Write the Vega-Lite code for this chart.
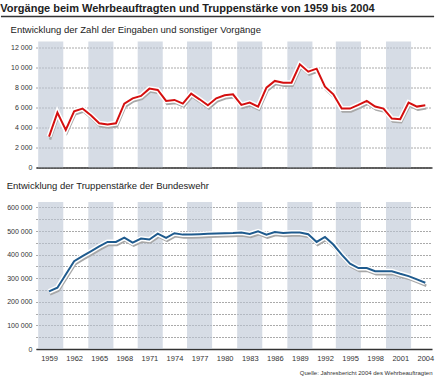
{
  "$schema": "https://vega.github.io/schema/vega-lite/v6.json",
  "padding": {"left": 0, "right": 2, "top": 3, "bottom": 1},
  "title": {
    "text": "Vorgänge beim Wehrbeauftragten und Truppenstärke von 1959 bis 2004",
    "anchor": "start", "frame": "bounds", "fontSize": 11, "fontWeight": "bold",
    "color": "#222222", "offset": -9.5, "baseline": "bottom"
  },
  "datasets": {
    "bands": [
      {"start": 1957.7, "end": 1960.7}, {"start": 1963.7, "end": 1966.7},
      {"start": 1969.6, "end": 1972.6}, {"start": 1975.5, "end": 1978.5},
      {"start": 1981.5, "end": 1984.5}, {"start": 1987.5, "end": 1990.5},
      {"start": 1993.3, "end": 1996.3}, {"start": 1999.3, "end": 2002.3}
    ],
    "eingaben": [
      {"year": 1959, "value": 3100}, {"year": 1960, "value": 5500}, {"year": 1961, "value": 3770},
      {"year": 1962, "value": 5630}, {"year": 1963, "value": 5900}, {"year": 1964, "value": 5230},
      {"year": 1965, "value": 4430}, {"year": 1966, "value": 4300}, {"year": 1967, "value": 4430},
      {"year": 1968, "value": 6400}, {"year": 1969, "value": 6930}, {"year": 1970, "value": 7170},
      {"year": 1971, "value": 7900}, {"year": 1972, "value": 7770}, {"year": 1973, "value": 6670},
      {"year": 1974, "value": 6770}, {"year": 1975, "value": 6400}, {"year": 1976, "value": 7400},
      {"year": 1977, "value": 6830}, {"year": 1978, "value": 6230}, {"year": 1979, "value": 6930},
      {"year": 1980, "value": 7230}, {"year": 1981, "value": 7330}, {"year": 1982, "value": 6270},
      {"year": 1983, "value": 6500}, {"year": 1984, "value": 6100}, {"year": 1985, "value": 8000},
      {"year": 1986, "value": 8670}, {"year": 1987, "value": 8500}, {"year": 1988, "value": 8500},
      {"year": 1989, "value": 10330}, {"year": 1990, "value": 9600}, {"year": 1991, "value": 9900},
      {"year": 1992, "value": 8100}, {"year": 1993, "value": 7330}, {"year": 1994, "value": 5900},
      {"year": 1995, "value": 5900}, {"year": 1996, "value": 6270}, {"year": 1997, "value": 6670},
      {"year": 1998, "value": 6100}, {"year": 1999, "value": 5900}, {"year": 2000, "value": 4900},
      {"year": 2001, "value": 4830}, {"year": 2002, "value": 6500}, {"year": 2003, "value": 6100},
      {"year": 2004, "value": 6230}
    ],
    "truppen": [
      {"year": 1959, "value": 244000}, {"year": 1960, "value": 260000}, {"year": 1961, "value": 316000},
      {"year": 1962, "value": 372000}, {"year": 1963, "value": 394000}, {"year": 1964, "value": 414000},
      {"year": 1965, "value": 435000}, {"year": 1966, "value": 454000}, {"year": 1967, "value": 454000},
      {"year": 1968, "value": 472000}, {"year": 1969, "value": 451000}, {"year": 1970, "value": 468000},
      {"year": 1971, "value": 464000}, {"year": 1972, "value": 489000}, {"year": 1973, "value": 471000},
      {"year": 1974, "value": 491000}, {"year": 1975, "value": 485000}, {"year": 1976, "value": 485000},
      {"year": 1977, "value": 487000}, {"year": 1978, "value": 489000}, {"year": 1979, "value": 490000},
      {"year": 1980, "value": 491000}, {"year": 1981, "value": 492000}, {"year": 1982, "value": 494000},
      {"year": 1983, "value": 488000}, {"year": 1984, "value": 499000}, {"year": 1985, "value": 485000},
      {"year": 1986, "value": 496000}, {"year": 1987, "value": 492000}, {"year": 1988, "value": 494000},
      {"year": 1989, "value": 494000}, {"year": 1990, "value": 487000}, {"year": 1991, "value": 454000},
      {"year": 1992, "value": 475000}, {"year": 1993, "value": 443000}, {"year": 1994, "value": 400000},
      {"year": 1995, "value": 362000}, {"year": 1996, "value": 343000}, {"year": 1997, "value": 343000},
      {"year": 1998, "value": 330000}, {"year": 1999, "value": 330000}, {"year": 2000, "value": 330000},
      {"year": 2001, "value": 319000}, {"year": 2002, "value": 309000}, {"year": 2003, "value": 295000},
      {"year": 2004, "value": 281000}
    ]
  },
  "spacing": 6.5,
  "vconcat": [
    {
      "width": 396, "height": 1,
      "data": {"values": [{}]},
      "mark": {"type": "rule", "color": "#333333", "strokeWidth": 1.3, "clip": false},
      "encoding": {
        "x": {"datum": 1953.25, "type": "quantitative", "scale": {"domain": [1957.44, 2004.8], "nice": false, "zero": false}, "axis": null},
        "x2": {"datum": 2005.05}
      }
    },
    {
      "width": 396, "height": 126,
      "title": {"text": "Entwicklung der Zahl der Eingaben und sonstiger Vorgänge", "anchor": "start", "fontSize": 9.5, "fontWeight": "normal", "offset": -3.4, "color": "#222222", "baseline": "bottom"},
      "layer": [
        {
          "data": {"name": "bands"},
          "mark": {"type": "rect", "color": "#bbc5d4", "opacity": 0.6},
          "encoding": {
            "x": {"field": "start", "type": "quantitative", "scale": {"domain": [1957.44, 2004.8], "nice": false, "zero": false},
                  "axis": {"labels": false, "ticks": false, "grid": false, "title": null, "domain": true, "domainColor": "#333333", "domainWidth": 1.5, "minExtent": 7}},
            "x2": {"field": "end"}
          }
        },
        {
          "data": {"name": "eingaben"},
          "mark": {"type": "line", "color": "#a8a8a8", "strokeWidth": 2.5, "xOffset": 1, "yOffset": 3},
          "encoding": {
            "x": {"field": "year", "type": "quantitative",
                  "axis": {"labels": false, "ticks": false, "grid": false, "title": null, "domain": true, "domainColor": "#333333", "domainWidth": 1.5, "minExtent": 7}},
            "y": {"field": "value", "type": "quantitative", "scale": {"domain": [0, 12620], "nice": false},
                  "axis": {"values": [0, 2000, 4000, 6000, 8000, 10000, 12000], "format": ",d", "grid": true, "gridDash": [1, 2], "gridColor": "#555555", "gridWidth": 1, "domain": false, "ticks": false, "labelFontSize": 7, "labelPadding": 4, "labelOverlap": false, "title": null}}
          }
        },
        {
          "data": {"name": "eingaben"},
          "mark": {"type": "line", "color": "#ffffff", "strokeWidth": 5},
          "encoding": {
            "x": {"field": "year", "type": "quantitative",
                  "axis": {"labels": false, "ticks": false, "grid": false, "title": null, "domain": true, "domainColor": "#333333", "domainWidth": 1.5, "minExtent": 7}},
            "y": {"field": "value", "type": "quantitative",
                  "axis": {"values": [0, 2000, 4000, 6000, 8000, 10000, 12000], "format": ",d", "grid": true, "gridDash": [1, 2], "gridColor": "#555555", "gridWidth": 1, "domain": false, "ticks": false, "labelFontSize": 7, "labelPadding": 4, "labelOverlap": false, "title": null}}}
        },
        {
          "data": {"name": "eingaben"},
          "mark": {"type": "line", "color": "#d40f0f", "strokeWidth": 2},
          "encoding": {
            "x": {"field": "year", "type": "quantitative",
                  "axis": {"labels": false, "ticks": false, "grid": false, "title": null, "domain": true, "domainColor": "#333333", "domainWidth": 1.5, "minExtent": 7}},
            "y": {"field": "value", "type": "quantitative",
                  "axis": {"values": [0, 2000, 4000, 6000, 8000, 10000, 12000], "format": ",d", "grid": true, "gridDash": [1, 2], "gridColor": "#555555", "gridWidth": 1, "domain": false, "ticks": false, "labelFontSize": 7, "labelPadding": 4, "labelOverlap": false, "title": null}}}
        }
      ]
    },
    {
      "width": 396, "height": 147,
      "title": {"text": "Entwicklung der Truppenstärke der Bundeswehr", "anchor": "start", "fontSize": 9.5, "fontWeight": "normal", "offset": 1.2, "color": "#222222", "baseline": "bottom"},
      "layer": [
        {
          "data": {"name": "bands"},
          "mark": {"type": "rect", "color": "#bbc5d4", "opacity": 0.6},
          "encoding": {
            "x": {"field": "start", "type": "quantitative", "scale": {"domain": [1957.44, 2004.8], "nice": false, "zero": false},
                  "axis": {"values": [1959, 1962, 1965, 1968, 1971, 1974, 1977, 1980, 1983, 1986, 1989, 1992, 1995, 1998, 2001, 2004], "format": "d", "ticks": false, "grid": false, "domain": true, "domainColor": "#333333", "domainWidth": 1.5, "labelFontSize": 7.5, "labelPadding": 5, "labelOverlap": false,
                           "title": "Quelle: Jahresbericht 2004 des Wehrbeauftragten", "titleFontSize": 6, "titleFontWeight": "normal", "titleAnchor": "end", "titlePadding": 8, "titleColor": "#333333"}},
            "x2": {"field": "end"}
          }
        },
        {
          "data": {"name": "truppen"},
          "mark": {"type": "line", "color": "#a8a8a8", "strokeWidth": 2.5, "xOffset": 1, "yOffset": 3},
          "encoding": {
            "x": {"field": "year", "type": "quantitative",
                  "axis": {"values": [1959, 1962, 1965, 1968, 1971, 1974, 1977, 1980, 1983, 1986, 1989, 1992, 1995, 1998, 2001, 2004], "format": "d", "ticks": false, "grid": false, "domain": true, "domainColor": "#333333", "domainWidth": 1.5, "labelFontSize": 7.5, "labelPadding": 5, "labelOverlap": false,
                           "title": "Quelle: Jahresbericht 2004 des Wehrbeauftragten", "titleFontSize": 6, "titleFontWeight": "normal", "titleAnchor": "end", "titlePadding": 8, "titleColor": "#333333"}},
            "y": {"field": "value", "type": "quantitative", "scale": {"domain": [0, 623300], "nice": false},
                  "axis": {"values": [0, 50000, 100000, 150000, 200000, 250000, 300000, 350000, 400000, 450000, 500000, 550000, 600000], "labelExpr": "datum.value % 100000 === 0 ? datum.label : ''", "format": ",d", "grid": true, "gridDash": [1, 2], "gridColor": "#555555", "gridWidth": 1, "domain": false, "ticks": false, "labelFontSize": 7, "labelPadding": 4, "labelOverlap": false, "title": null}}
          }
        },
        {
          "data": {"name": "truppen"},
          "mark": {"type": "line", "color": "#ffffff", "strokeWidth": 5},
          "encoding": {
            "x": {"field": "year", "type": "quantitative",
                  "axis": {"values": [1959, 1962, 1965, 1968, 1971, 1974, 1977, 1980, 1983, 1986, 1989, 1992, 1995, 1998, 2001, 2004], "format": "d", "ticks": false, "grid": false, "domain": true, "domainColor": "#333333", "domainWidth": 1.5, "labelFontSize": 7.5, "labelPadding": 5, "labelOverlap": false,
                           "title": "Quelle: Jahresbericht 2004 des Wehrbeauftragten", "titleFontSize": 6, "titleFontWeight": "normal", "titleAnchor": "end", "titlePadding": 8, "titleColor": "#333333"}},
            "y": {"field": "value", "type": "quantitative",
                  "axis": {"values": [0, 50000, 100000, 150000, 200000, 250000, 300000, 350000, 400000, 450000, 500000, 550000, 600000], "labelExpr": "datum.value % 100000 === 0 ? datum.label : ''", "format": ",d", "grid": true, "gridDash": [1, 2], "gridColor": "#555555", "gridWidth": 1, "domain": false, "ticks": false, "labelFontSize": 7, "labelPadding": 4, "labelOverlap": false, "title": null}}}
        },
        {
          "data": {"name": "truppen"},
          "mark": {"type": "line", "color": "#1f5b8e", "strokeWidth": 2},
          "encoding": {
            "x": {"field": "year", "type": "quantitative",
                  "axis": {"values": [1959, 1962, 1965, 1968, 1971, 1974, 1977, 1980, 1983, 1986, 1989, 1992, 1995, 1998, 2001, 2004], "format": "d", "ticks": false, "grid": false, "domain": true, "domainColor": "#333333", "domainWidth": 1.5, "labelFontSize": 7.5, "labelPadding": 5, "labelOverlap": false,
                           "title": "Quelle: Jahresbericht 2004 des Wehrbeauftragten", "titleFontSize": 6, "titleFontWeight": "normal", "titleAnchor": "end", "titlePadding": 8, "titleColor": "#333333"}},
            "y": {"field": "value", "type": "quantitative",
                  "axis": {"values": [0, 50000, 100000, 150000, 200000, 250000, 300000, 350000, 400000, 450000, 500000, 550000, 600000], "labelExpr": "datum.value % 100000 === 0 ? datum.label : ''", "format": ",d", "grid": true, "gridDash": [1, 2], "gridColor": "#555555", "gridWidth": 1, "domain": false, "ticks": false, "labelFontSize": 7, "labelPadding": 4, "labelOverlap": false, "title": null}}}
        }
      ]
    }
  ],
  "config": {
    "font": "Liberation Sans",
    "view": {"stroke": null},
    "axis": {"labelColor": "#333333", "labelFont": "Liberation Sans", "titleFont": "Liberation Sans"},
    "title": {"font": "Liberation Sans"},
    "locale": {"number": {"decimal": ",", "thousands": " ", "grouping": [3], "currency": ["", " €"]}}
  }
}
